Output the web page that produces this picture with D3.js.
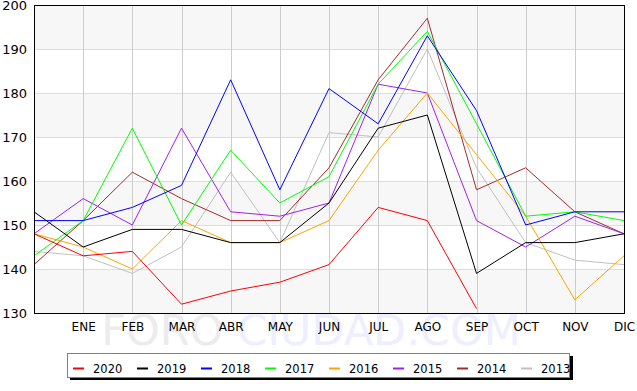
<!DOCTYPE html>
<html>
<head>
<meta charset="utf-8">
<script src="https://cdn.jsdelivr.net/npm/d3@7"></script>
<style>
  body { margin: 0; background: #fff; }
  svg { display: block; font-family: "DejaVu Sans", sans-serif; }
</style>
</head>
<body>
<svg id="chart" width="637" height="391"></svg>
<script>
// ===== DATA =====
var months = ["", "ENE", "FEB", "MAR", "ABR", "MAY", "JUN", "JUL", "AGO", "SEP", "OCT", "NOV", "DIC"];
var yTicks = [130, 140, 150, 160, 170, 180, 190, 200];

var years = ["2020", "2019", "2018", "2017", "2016", "2015", "2014", "2013"];
var colors = ["#ff0000", "#000000", "#0000ff", "#00ff00", "#ffa500", "#a020f0", "#a52a2a", "#c0c0c0"];

var v2020 = [148, 143, 144, 132, 135, 137, 141, 154, 151, 131];
var v2019 = [153, 145, 149, 149, 146, 146, 155, 172, 175, 139, 146, 146, 148];
var v2018 = [151, 151, 154, 159, 183, 158, 181, 173, 193, 176, 150, 153, 153];
var v2017 = [143, 151, 172, 150, 167, 155, 161, 182, 194, 173, 152, 153, 151];
var v2016 = [148, 145, 140, 151, 146, 146, 151, 167, 180, 166, 152, 133, 143];
var v2015 = [148, 156, 150, 172, 153, 152, 155, 182, 180, 151, 145, 152, 148];
var v2014 = [141, 151, 162, 156, 151, 151, 163, 183, 197, 158, 163, 153, 148];
var v2013 = [144, 143, 139, 145, 162, 146, 171, 170, 190, 163, 146, 142, 141];

var series = [v2020, v2019, v2018, v2017, v2016, v2015, v2014, v2013];

// ===== LAYOUT =====
var svg = d3.select("#chart");
var plotLeft = 34, plotRight = 624, plotTop = 5, plotBottom = 313;

var x = d3.scalePoint().domain(d3.range(months.length)).range([plotLeft, plotRight]);
var y = d3.scaleLinear().domain([130, 200]).range([plotBottom, plotTop]);

// alternating background bands
for (var i = 0; i < yTicks.length - 1; i++) {
  svg.append("rect")
    .attr("x", plotLeft).attr("width", plotRight - plotLeft)
    .attr("y", y(yTicks[i + 1])).attr("height", y(yTicks[i]) - y(yTicks[i + 1]))
    .attr("fill", i % 2 == 0 ? "#f7f7f7" : "#ffffff");
}

// watermark
var wm = svg.append("text")
  .attr("x", 311).attr("y", 345)
  .attr("text-anchor", "middle")
  .attr("font-size", 43)
  .attr("font-family", "'DejaVu Sans', sans-serif");
wm.append("tspan").attr("fill", "#ececec").text("FORO ");
wm.append("tspan").attr("fill", "#eeeeff").text("CIUDAD.COM");

// grid
svg.append("g").selectAll("line")
  .data(yTicks).enter().append("line")
  .attr("x1", plotLeft).attr("x2", plotRight)
  .attr("y1", function (d) { return Math.round(y(d)) + 0.5; })
  .attr("y2", function (d) { return Math.round(y(d)) + 0.5; })
  .attr("stroke", "#dddddd").attr("stroke-width", 1);

svg.append("g").selectAll("line")
  .data(d3.range(months.length)).enter().append("line")
  .attr("x1", function (d) { return Math.round(x(d)) + 0.5; })
  .attr("x2", function (d) { return Math.round(x(d)) + 0.5; })
  .attr("y1", plotTop).attr("y2", plotBottom)
  .attr("stroke", "#cccccc").attr("stroke-width", 1);

// axes (labels only)
var yAxis = d3.axisLeft(y).tickValues(yTicks).tickSize(0).tickPadding(7);
var gy = svg.append("g").attr("transform", "translate(" + plotLeft + ",0)").call(yAxis);
gy.select(".domain").remove();
gy.selectAll("text").attr("font-size", 13).attr("font-family", "'DejaVu Sans', sans-serif").attr("fill", "#000");

var xAxis = d3.axisBottom(x).tickFormat(function (d) { return months[d]; }).tickSize(0).tickPadding(9);
var gx = svg.append("g").attr("transform", "translate(0," + plotBottom + ")").call(xAxis);
gx.select(".domain").remove();
gx.selectAll("text").attr("font-size", 12).attr("font-family", "'DejaVu Sans', sans-serif").attr("fill", "#000");

// lines (oldest drawn first)
var line = d3.line()
  .x(function (d, i) { return x(i); })
  .y(function (d) { return y(d); });

for (var s = series.length - 1; s >= 0; s--) {
  svg.append("path")
    .datum(series[s])
    .attr("d", line)
    .attr("fill", "none")
    .attr("stroke", colors[s])
    .attr("stroke-width", 1);
}

// plot border
svg.append("rect")
  .attr("x", plotLeft + 0.5).attr("y", plotTop + 0.5)
  .attr("width", plotRight - plotLeft).attr("height", plotBottom - plotTop)
  .attr("fill", "none").attr("stroke", "#000").attr("stroke-width", 1);

// ===== LEGEND =====
var lg = svg.append("g");
lg.append("rect").attr("x", 70).attr("y", 356).attr("width", 503).attr("height", 24).attr("fill", "#000");
lg.append("rect").attr("x", 67.5).attr("y", 353.5).attr("width", 502).attr("height", 24)
  .attr("fill", "#fff").attr("stroke", "#808080").attr("stroke-width", 1);

var items = lg.selectAll("g.item").data(years).enter().append("g")
  .attr("class", "item")
  .attr("transform", function (d, i) { return "translate(" + (73 + i * 64) + ",368)"; });
items.append("line")
  .attr("x1", 0).attr("x2", 11).attr("y1", 0.5).attr("y2", 0.5)
  .attr("stroke", function (d, i) { return colors[i]; }).attr("stroke-width", 2);
items.append("text")
  .attr("x", 20).attr("y", 4.5)
  .attr("font-size", 11.5)
  .attr("font-family", "'DejaVu Sans', sans-serif")
  .text(function (d) { return d; });
</script>
</body>
</html>
